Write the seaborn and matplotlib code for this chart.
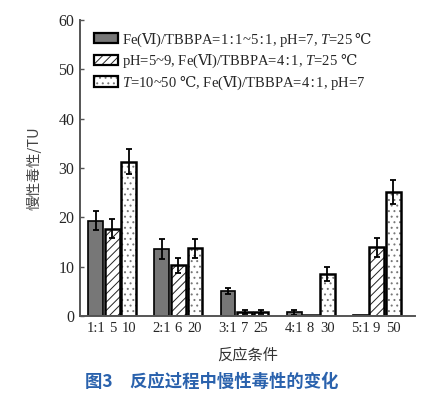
import matplotlib
matplotlib.use("Agg")
import matplotlib.pyplot as plt
import matplotlib.colors as mcolors
from matplotlib.container import BarContainer
import seaborn as sns
import pandas as pd
import numpy as np

groups = ["G1", "G2", "G3", "G4", "G5"]
series = [r"Fe($\mathrm{Ⅵ}$)/TBBPA=1$\mathrm{∶}$1~5$\mathrm{∶}$1, pH=7, $\mathit{T}$=25 $\mathrm{℃}$",
          r"pH=5~9, Fe($\mathrm{Ⅵ}$)/TBBPA=4$\mathrm{∶}$1, $\mathit{T}$=25 $\mathrm{℃}$",
          r"$\mathit{T}$=10~50 $\mathrm{℃}$, Fe($\mathrm{Ⅵ}$)/TBBPA=4$\mathrm{∶}$1, pH=7"]
vals_ratio = [19.3, 13.6, 5.1, 0.8, 0.15]
vals_ph = [17.7, 10.3, 0.8, 0.15, 13.9]
vals_temp = [31.3, 13.7, 0.8, 8.5, 25.1]
err_ratio = [1.9, 2.0, 0.6, 0.5, 0.0]
err_ph = [1.9, 1.5, 0.4, 0.0, 2.0]
err_temp = [2.5, 2.0, 0.4, 1.5, 2.4]
tick_labels = [["1:1", "5", "10"], ["2:1", "6", "20"], ["3:1", "7", "25"],
               ["4:1", "8", "30"], ["5:1", "9", "50"]]

serif = ["Liberation Serif", "DejaVu Serif", "Noto Sans CJK SC"]
cjk = ["Noto Sans CJK SC", "DejaVu Sans"]

sns.set_style("white")
plt.rcParams["font.family"] = serif
plt.rcParams["mathtext.fontset"] = "custom"
plt.rcParams["mathtext.rm"] = "DejaVu Serif"
plt.rcParams["mathtext.it"] = "Liberation Serif:italic"
plt.rcParams["hatch.linewidth"] = 0.7

df = pd.DataFrame({
    "group": groups * 3,
    "series": [series[0]] * 5 + [series[1]] * 5 + [series[2]] * 5,
    "value": vals_ratio + vals_ph + vals_temp,
})

fig = plt.figure(figsize=(4.35, 3.97), dpi=100)
ax = fig.add_axes([80 / 435, 1 - 316 / 397, 335 / 435, 296 / 397])

sns.barplot(data=df, x="group", y="value", hue="series", order=groups,
            hue_order=series, width=0.75, gap=0.1, errorbar=None,
            palette=["#777777", "white", "white"], edgecolor="black",
            linewidth=1.8, ax=ax, legend=True)

hatches = ["", "////", "..."]
hatch_cols = ["black", "#222222", "#777777"]
errs = [err_ratio, err_ph, err_temp]
bar_conts = [c for c in ax.containers if isinstance(c, BarContainer)]
centers = []
for ci, cont in enumerate(bar_conts):
    xs, ys = [], []
    for p in cont.patches:
        p.set_hatch(hatches[ci])
        p._hatch_color = mcolors.to_rgba(hatch_cols[ci])
        if ci == 0:
            p.set_linewidth(1.2)
        xs.append(p.get_x() + p.get_width() / 2)
        ys.append(p.get_height())
    centers.append(xs)
    e = np.array(errs[ci])
    m = e > 0
    ax.errorbar(np.array(xs)[m], np.array(ys)[m], yerr=e[m], fmt="none",
                ecolor="black", elinewidth=1.3, capsize=2.2, capthick=1.3)

ticks, labs = [], []
for gi in range(len(groups)):
    for ci in range(3):
        ticks.append(centers[ci][gi])
        labs.append(tick_labels[gi][ci])
ax.set_xticks(ticks)
ax.set_xticklabels(labs, fontsize=10.5)
ax.tick_params(axis="x", length=0, pad=4)

ax.set_ylim(0, 60)
ax.set_yticks(range(0, 61, 10))
ax.tick_params(axis="y", labelsize=11.5, length=3, width=1, direction="in",
               left=True, color="#555555", pad=4)
ax.set_xlim(-0.49, 4.58)

for s in ["top", "right"]:
    ax.spines[s].set_visible(False)
for s in ["left", "bottom"]:
    ax.spines[s].set_color("#555555")
    ax.spines[s].set_linewidth(1.4)

ax.set_xlabel("反应条件", fontsize=11, family=cjk, color="#333333", labelpad=9)
ax.set_ylabel("慢性毒性/TU", fontsize=10.5, family=cjk, color="#444444", labelpad=12)

leg = ax.legend(loc="upper left", bbox_to_anchor=(0.025, 0.985), frameon=False,
                fontsize=10.5, handlelength=1.6, handleheight=0.7,
                handletextpad=0.3, labelspacing=0.22, borderaxespad=0)
for h, ht, hc in zip(leg.legend_handles, hatches, hatch_cols):
    h.set_hatch(ht)
    h.set_edgecolor("black")
    h.set_linewidth(1.6)
    h._hatch_color = mcolors.to_rgba(hc)

fig.text(85 / 435, 1 - 382 / 397, "图3　反应过程中慢性毒性的变化", family=cjk,
         fontsize=12.5, fontweight="bold", color="#2a62ad", va="center", ha="left")

fig.savefig("out.png", dpi=100)
